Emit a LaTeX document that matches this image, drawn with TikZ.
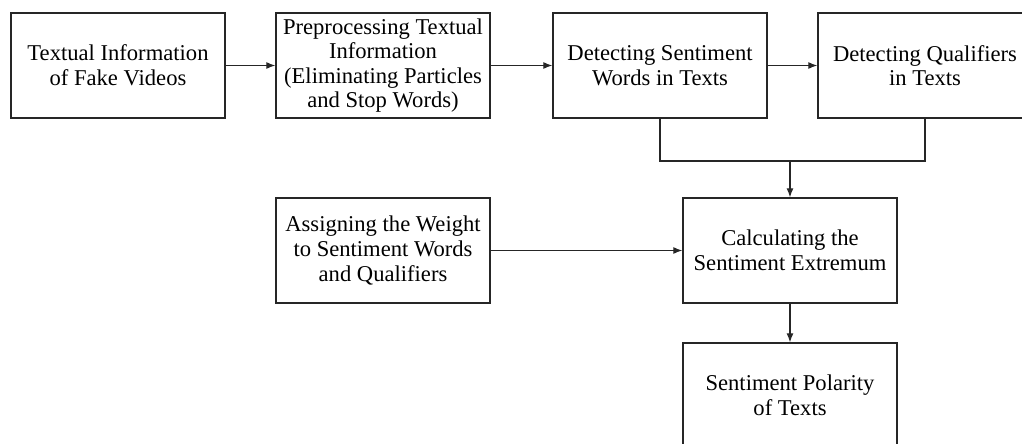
\documentclass[tikz,border=0pt]{standalone}
\usepackage{fontspec}
\setmainfont{Liberation Serif}
\usetikzlibrary{arrows.meta}
\begin{document}
\begin{tikzpicture}[x=1pt,y=-1pt,
  box/.style={draw=black!85, line width=1.3pt, minimum width=214pt, minimum height=105pt,
    align=center, inner sep=0pt, font=\fontsize{22.6}{24.6}\selectfont},
  arr/.style={-{Latex[length=9pt,width=7pt]}, line width=1.2pt, draw=black!85},
  ln/.style={line width=1.2pt, draw=black!85}]
\useasboundingbox (0,0) rectangle (1022,444);
\clip (0,0) rectangle (1022,444);
\node[box] (b1) at (118,65.5) {Textual Information\\of Fake Videos};
\node[box] (b2) at (383,65.5) {Preprocessing Textual\\Information\\(Eliminating Particles\\and Stop Words)};
\node[box] (b3) at (660,65.5) {Detecting Sentiment\\Words in Texts};
\node[box] (b4) at (925,65.5) {Detecting Qualifiers\\in Texts};
\node[box] (b5) at (383,250.5) {Assigning the Weight\\to Sentiment Words\\and Qualifiers};
\node[box] (b6) at (790,250.5) {Calculating the\\Sentiment Extremum};
\node[box] (b7) at (790,395.5) {Sentiment Polarity\\of Texts};
\coordinate (j) at (790,161);
\draw[arr] (b1) -- (b2);
\draw[arr] (b2) -- (b3);
\draw[arr] (b3) -- (b4);
\draw[ln] (b3.south) -- (b3.south |- j) -- (b4.south |- j) -- (b4.south);
\draw[arr] (j) -- (b6.north);
\draw[arr] (b5) -- (b6);
\draw[arr] (b6) -- (b7);
\end{tikzpicture}
\end{document}
